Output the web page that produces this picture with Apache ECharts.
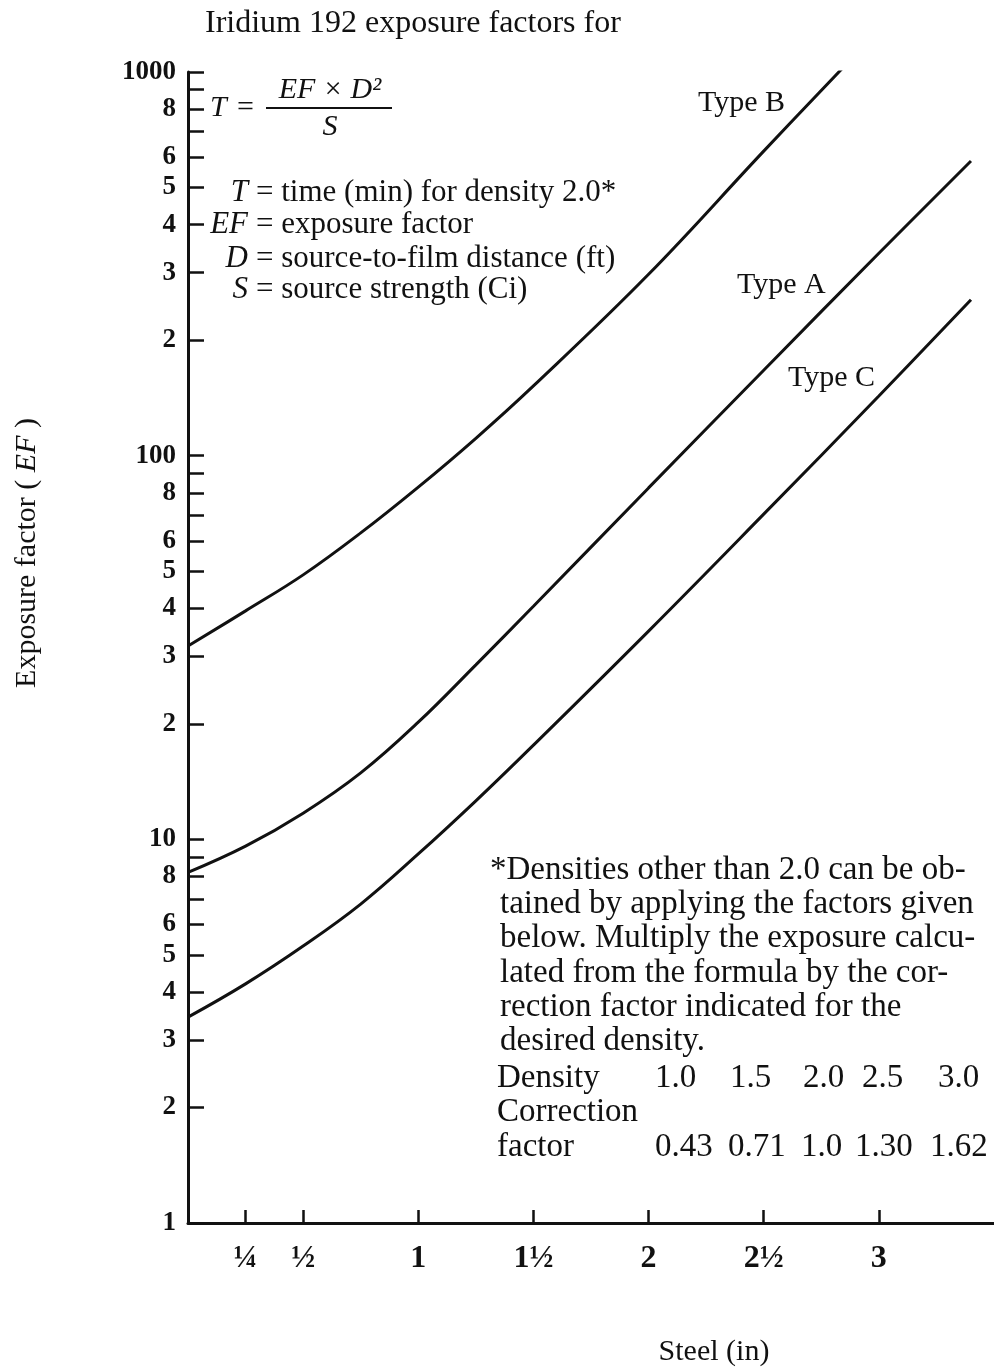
<!DOCTYPE html>
<html>
<head>
<meta charset="utf-8">
<script src="https://cdn.jsdelivr.net/npm/echarts@6/dist/echarts.min.js"></script>
<style>
  html, body { margin: 0; padding: 0; background: #fff; }
  #chart { width: 994px; height: 1372px; }
</style>
</head>
<body>
<div id="chart"></div>
<script>
// ---- Data ----
const steelTicks = [0.25, 0.5, 1, 1.5, 2, 2.5, 3];
const steelTickLabels = ['¼', '½', '1', '1½', '2', '2½', '3'];

const efTicks = [1,2,3,4,5,6,7,8,9,10,20,30,40,50,60,70,80,90,100,200,300,400,500,600,700,800,900,1000];
const efLabelValues = [1,2,3,4,5,6,8,10,20,30,40,50,60,80,100,200,300,400,500,600,800,1000];
const efLabelTexts  = ['1','2','3','4','5','6','8','10','2','3','4','5','6','8','100','2','3','4','5','6','8','1000'];

const typeBSteel = [0, 0.25, 0.5, 0.75, 1.0, 1.25, 1.5, 2.0, 2.5, 2.84];
const typeBEF    = [31.9, 39.4, 48.9, 62.9, 82.8, 111, 152, 297, 622, 1020];

const typeASteel = [0, 0.25, 0.5, 0.75, 1.0, 1.25, 1.5, 2.0, 2.5, 3.0, 3.4];
const typeAEF    = [8.2, 9.6, 11.7, 14.9, 20.2, 28.5, 40.5, 82.4, 167, 337, 586];

const typeCSteel = [0, 0.25, 0.5, 0.75, 1.0, 1.25, 1.5, 2.0, 2.5, 3.0, 3.4];
const typeCEF    = [3.44, 4.2, 5.27, 6.78, 9.16, 12.6, 17.6, 34.9, 70.4, 143, 255];

const densityValues = ['1.0', '1.5', '2.0', '2.5', '3.0'];
const correctionFactors = ['0.43', '0.71', '1.0', '1.30', '1.62'];

// ---- Chart ----
const FONT = '"Liberation Serif", "Times New Roman", serif';
const INK = '#111';

function pairs(xs, ys) { return xs.map((x, i) => [x, ys[i]]); }

function efLabel(v) {
  let best = 0, bd = Infinity;
  efLabelValues.forEach((lv, i) => {
    const d = Math.abs(Math.log10(lv) - Math.log10(v));
    if (d < bd) { bd = d; best = i; }
  });
  return bd < 1e-6 ? efLabelTexts[best] : '';
}
function steelLabel(v) {
  const i = steelTicks.findIndex(t => Math.abs(t - v) < 1e-6);
  return i >= 0 ? steelTickLabels[i] : '';
}

const chart = echarts.init(document.getElementById('chart'), null, { renderer: 'canvas' });

const lineSeries = (name, xs, ys) => ({
  name, type: 'line', data: pairs(xs, ys), smooth: 0.4, symbol: 'none',
  lineStyle: { color: INK, width: 3 }, silent: true, animation: false, clip: true
});

function txt(text, x, y, opts) {
  return {
    type: 'text', x, y, silent: true,
    style: Object.assign({
      text, fill: INK, font: '33px ' + FONT,
      textAlign: 'left', textVerticalAlign: 'middle'
    }, opts || {})
  };
}

const footLines = [
  ['*Densities other than 2.0 can be ob-', 490],
  ['tained by applying the factors given', 500],
  ['below. Multiply the exposure calcu-', 500],
  ['lated from the formula by the cor-', 500],
  ['rection factor indicated for the', 500],
  ['desired density.', 500]
];
const densityCols = [655, 730, 803, 862, 938];
const factorCols  = [655, 728, 801, 855, 930];

const graphics = [];
graphics.push(txt('Iridium 192 exposure factors for', 205, 24, { font: '32px ' + FONT }));
// formula
graphics.push(txt('T', 210, 108, { font: 'italic 30px ' + FONT }));
graphics.push(txt('=', 237, 108, { font: '30px ' + FONT }));
graphics.push(txt('EF × D²', 330, 90, { font: 'italic 30px ' + FONT, textAlign: 'center' }));
graphics.push({ type: 'line', silent: true, shape: { x1: 266, y1: 108, x2: 392, y2: 108 }, style: { stroke: INK, lineWidth: 2 } });
graphics.push(txt('S', 330, 127, { font: 'italic 30px ' + FONT, textAlign: 'center' }));
// definitions
const defs = [['T', '= time (min) for density 2.0*', 193], ['EF', '= exposure factor', 225], ['D', '= source-to-film distance (ft)', 259], ['S', '= source strength (Ci)', 290]];
defs.forEach(([v, rest, y]) => {
  graphics.push(txt(v, 248, y, { font: 'italic 31px ' + FONT, textAlign: 'right' }));
  graphics.push(txt(rest, 256, y, { font: '31px ' + FONT }));
});
// curve labels
graphics.push(txt('Type B', 698, 103, { font: '30px ' + FONT }));
graphics.push(txt('Type A', 737, 285, { font: '30px ' + FONT }));
graphics.push(txt('Type C', 788, 378, { font: '30px ' + FONT }));
// footnote
footLines.forEach(([t, x], i) => graphics.push(txt(t, x, 870 + i * 34.3)));
graphics.push(txt('Density', 497, 1078));
densityValues.forEach((v, i) => graphics.push(txt(v, densityCols[i], 1078)));
graphics.push(txt('Correction', 497, 1112));
graphics.push(txt('factor', 497, 1147));
correctionFactors.forEach((v, i) => graphics.push(txt(v, factorCols[i], 1147)));
// axis names
graphics.push({
  type: 'text', x: 27, y: 553, rotation: Math.PI / 2, silent: true,
  style: {
    text: 'Exposure factor ( {i|EF} )', fill: INK, font: '30px ' + FONT,
    textAlign: 'center', textVerticalAlign: 'middle',
    rich: { i: { fontStyle: 'italic', fontFamily: FONT, fontSize: 30, fill: INK } }
  }
});
graphics.push(txt('Steel (in)', 714, 1352, { font: '30px ' + FONT, textAlign: 'center' }));

chart.setOption({
  animation: false,
  backgroundColor: '#fff',
  grid: { left: 188, top: 72, width: 810, height: 1151, containLabel: false },
  xAxis: {
    type: 'value', min: 0, max: 3.5,
    axisLine: { show: true, onZero: false, lineStyle: { color: INK, width: 3 } },
    axisTick: { show: true, inside: true, length: 13, customValues: steelTicks, lineStyle: { color: INK, width: 2.5 } },
    axisLabel: {
      show: true, customValues: steelTicks, formatter: steelLabel, margin: 20,
      color: INK, fontFamily: FONT, fontSize: 32, fontWeight: 'bold'
    },
    splitLine: { show: false }
  },
  yAxis: {
    type: 'log', logBase: 10, min: 1, max: 1000,
    axisLine: { show: true, lineStyle: { color: INK, width: 3 } },
    axisTick: { show: true, inside: true, length: 16, customValues: efTicks, lineStyle: { color: INK, width: 2.5 } },
    axisLabel: {
      show: true, customValues: efLabelValues, formatter: efLabel, margin: 12,
      color: INK, fontFamily: FONT, fontSize: 27, fontWeight: 'bold'
    },
    splitLine: { show: false },
    minorTick: { show: false }
  },
  series: [
    lineSeries('Type B', typeBSteel, typeBEF),
    lineSeries('Type A', typeASteel, typeAEF),
    lineSeries('Type C', typeCSteel, typeCEF)
  ],
  graphic: { elements: graphics }
});
</script>
</body>
</html>
